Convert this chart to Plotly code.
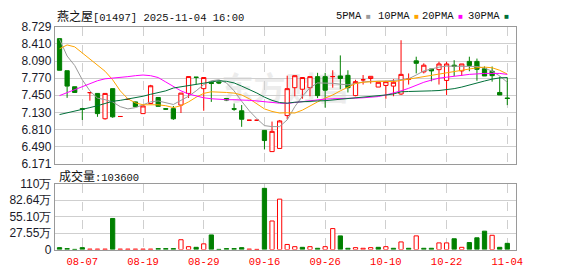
import plotly.graph_objects as go

# ---------------- data ----------------
dates = ["08-04", "08-05", "08-06", "08-07", "08-08", "08-11", "08-12", "08-13", "08-14", "08-15",
         "08-18", "08-19", "08-20", "08-21", "08-22", "08-25", "08-26", "08-27", "08-28", "08-29",
         "09-05", "09-08", "09-09", "09-10", "09-11", "09-12", "09-15", "09-16", "09-17", "09-18",
         "09-19", "09-22", "09-23", "09-24", "09-25", "09-26", "09-29", "09-30", "10-02", "10-03",
         "10-06", "10-08", "10-09", "10-10", "10-13", "10-14", "10-15", "10-16", "10-17", "10-20",
         "10-21", "10-22", "10-23", "10-24", "10-27", "10-28", "10-30", "10-31", "11-03", "11-04"]

opens = [8.510, 7.910, 7.610, 7.200, 7.500, 7.485, 7.011, 7.574, 7.053, 7.374,
         7.326, 7.107, 7.297, 7.409, 7.200, 7.200, 7.267, 7.485, 7.790, 7.574,
         7.690, 7.700, 7.390, 7.200, 7.160, 6.983, 6.983, 6.793, 6.396, 6.455,
         7.070, 7.592, 7.563, 7.592, 7.799, 7.799, 7.800, 7.811, 7.823, 7.444,
         7.740, 7.764, 7.604, 7.634, 7.622, 7.474, 7.752, 8.095, 7.888, 7.942,
         7.930, 7.728, 8.013, 7.906, 8.084, 8.084, 7.947, 7.900, 7.503, 7.400]
highs = [8.510, 7.910, 7.610, 7.215, 7.500, 7.490, 7.485, 7.574, 7.053, 7.374,
         7.330, 7.260, 7.645, 7.410, 7.210, 7.250, 7.491, 7.800, 7.790, 7.782,
         7.710, 7.710, 7.390, 7.297, 7.267, 6.983, 6.990, 6.800, 6.958, 6.988,
         7.817, 7.820, 7.785, 7.800, 7.870, 7.870, 7.918, 8.196, 7.918, 7.740,
         7.829, 7.805, 7.693, 7.722, 7.752, 8.480, 7.859, 8.172, 8.048, 7.942,
         8.078, 8.078, 8.107, 8.036, 8.172, 8.137, 7.989, 7.989, 7.799, 7.782]
lows = [7.918, 7.402, 7.500, 6.988, 7.349, 7.047, 6.994, 7.029, 7.053, 7.374,
        7.237, 7.100, 7.290, 7.243, 7.180, 6.990, 7.118, 7.400, 7.651, 7.160,
        7.326, 7.660, 7.350, 7.160, 6.860, 6.983, 6.975, 6.437, 6.390, 6.450,
        7.000, 7.432, 7.385, 7.432, 7.397, 7.219, 7.592, 7.563, 7.503, 7.432,
        7.651, 7.669, 7.604, 7.385, 7.432, 7.456, 7.651, 7.859, 7.859, 7.711,
        7.651, 7.456, 7.811, 7.811, 7.900, 7.722, 7.811, 7.705, 7.456, 7.266]
closes = [7.918, 7.622, 7.503, 7.190, 7.500, 7.107, 7.485, 7.047, 7.053, 7.374,
          7.237, 7.250, 7.628, 7.243, 7.190, 7.010, 7.491, 7.800, 7.785, 7.782,
          7.670, 7.680, 7.360, 7.190, 7.001, 6.983, 6.983, 6.603, 6.775, 6.970,
          7.574, 7.817, 7.782, 7.799, 7.444, 7.545, 7.800, 7.764, 7.592, 7.705,
          7.740, 7.805, 7.693, 7.705, 7.693, 7.841, 7.752, 8.048, 8.013, 7.906,
          8.036, 8.036, 7.989, 8.036, 8.007, 7.936, 7.811, 7.817, 7.456, 7.390]

ma5 = [8.498, 8.184, 8.007, 7.740, 7.533, 7.397, 7.367, 7.326, 7.237, 7.195,
       7.219, 7.266, 7.326, 7.344, 7.308, 7.278, 7.355, 7.432, 7.533, 7.651,
       7.722, 7.740, 7.681, 7.533, 7.338, 7.160, 7.012, 6.882, 6.864, 6.864,
       6.990, 7.237, 7.432, 7.592, 7.681, 7.681, 7.675, 7.657, 7.645, 7.669,
       7.699, 7.711, 7.711, 7.717, 7.728, 7.740, 7.758, 7.829, 7.906, 7.942,
       7.977, 7.995, 7.995, 7.989, 7.995, 7.989, 7.959, 7.900, 7.811, 7.693]
ma10 = [8.320, 8.392, 8.356, 8.244, 8.137, 8.024, 7.900, 7.740, 7.533, 7.385,
        7.308, 7.272, 7.278, 7.272, 7.255, 7.219, 7.255, 7.326, 7.414, 7.486,
        7.515, 7.515, 7.503, 7.491, 7.456, 7.385, 7.284, 7.195, 7.148, 7.118,
        7.124, 7.118, 7.172, 7.255, 7.326, 7.397, 7.456, 7.533, 7.604, 7.669,
        7.693, 7.705, 7.711, 7.711, 7.705, 7.728, 7.752, 7.776, 7.799, 7.817,
        7.841, 7.870, 7.894, 7.918, 7.942, 7.965, 7.977, 7.965, 7.918, 7.847]
ma20 = [7.444, 7.497, 7.551, 7.610, 7.669, 7.722, 7.758, 7.770, 7.776, 7.799,
        7.817, 7.829, 7.817, 7.782, 7.699, 7.610, 7.533, 7.474, 7.432, 7.403,
        7.385, 7.373, 7.367, 7.367, 7.367, 7.355, 7.344, 7.326, 7.308, 7.302,
        7.299, 7.314, 7.338, 7.355, 7.367, 7.379, 7.385, 7.385, 7.391, 7.397,
        7.403, 7.414, 7.426, 7.456, 7.491, 7.533, 7.580, 7.640, 7.693, 7.734,
        7.770, 7.788, 7.811, 7.823, 7.841, 7.853, 7.859, 7.859, 7.859, 7.841]
ma30 = [7.089, 7.118, 7.148, 7.184, 7.219, 7.255, 7.296, 7.338, 7.355, 7.379,
        7.409, 7.432, 7.468, 7.503, 7.533, 7.586, 7.610, 7.628, 7.651, 7.675,
        7.699, 7.722, 7.711, 7.681, 7.622, 7.563, 7.492, 7.415, 7.355, 7.314,
        7.302, 7.320, 7.332, 7.338, 7.344, 7.349, 7.361, 7.373, 7.385, 7.397,
        7.414, 7.432, 7.444, 7.456, 7.474, 7.515, 7.521, 7.521, 7.527, 7.533,
        7.539, 7.551, 7.574, 7.604, 7.645, 7.681, 7.717, 7.752, 7.776, 7.782]

volumes = [32000, 16000, 3000, 32000, 8000, 8000, 8000, 519000, 8000, 8000,
           8000, 8000, 8000, 16000, 16000, 16000, 164000, 48000, 37000, 95000,
           244000, 3000, 16000, 16000, 32000, 8000, 3000, 1022000, 477000, 842000,
           85000, 48000, 37000, 48000, 21000, 48000, 350000, 228000, 21000, 32000,
           21000, 32000, 37000, 48000, 21000, 127000, 21000, 228000, 21000, 21000,
           111000, 111000, 180000, 37000, 117000, 196000, 307000, 238000, 37000, 103600]
vol_dir = ["d", "d", "d", "d", "u", "u", "u", "d", "u", "u",
           "u", "u", "u", "d", "d", "d", "u", "u", "d", "u",
           "d", "d", "d", "d", "d", "u", "u", "d", "u", "u",
           "u", "u", "d", "u", "d", "u", "u", "d", "d", "u",
           "u", "u", "d", "u", "d", "u", "d", "u", "d", "d",
           "u", "u", "d", "u", "d", "d", "d", "u", "d", "d"]

price_ticks = [6.171, 6.490, 6.810, 7.130, 7.450, 7.770, 8.090, 8.410, 8.729]
vol_ticks = [0, 275500, 551000, 826400, 1102000]
vol_tick_labels = ["0", "27.55万", "55.10万", "82.64万", "110万"]
x_tick_dates = ["08-07", "08-19", "08-29", "09-16", "09-26", "10-10", "10-22", "11-04"]

title_name = "燕之屋"
title_rest = "[01497] 2025-11-04 16:00"
vol_title = "成交量"
last_volume = 103600
ma_names = ["5PMA", "10PMA", "20PMA", "30PMA"]

# ---------------- style ----------------
W, H = 578, 276
RED = "#ff0000"
GREEN = "#008000"
MA_COLORS = ["#9a9a9a", "#ffa500", "#ff00ff", "#00703a"]
GRID = "#cfcfcf"
FRAME = "#9a9a9a"
SANS = "Liberation Sans, Arial, sans-serif"
MONO = "Liberation Mono, DejaVu Sans Mono, monospace"
CJK = "Noto Sans CJK SC"

PL, PR = 55.5, 522.5          # plot left/right px
P_TOP, P_BOT = 21, 165        # price panel px
V_TOP, V_BOT = 186, 255.5     # volume panel px


def px_x(v):
    return v / W


def px_y(v):
    return (H - v) / H


n = len(dates)
up_idx = [i for i in range(n) if closes[i] >= opens[i]]
dn_idx = [i for i in range(n) if closes[i] < opens[i]]

fig = go.Figure()


def candle(idx, line_col, fill_col):
    style = dict(line=dict(color=line_col, width=1), fillcolor=fill_col)
    return go.Candlestick(
        x=[dates[i] for i in idx],
        open=[opens[i] for i in idx],
        high=[highs[i] for i in idx],
        low=[lows[i] for i in idx],
        close=[closes[i] for i in idx],
        increasing=style, decreasing=style,
        whiskerwidth=0, xaxis="x", yaxis="y",
        showlegend=False, hoverinfo="skip",
    )


fig.add_trace(candle(up_idx, RED, "#ffffff"))
fig.add_trace(candle(dn_idx, GREEN, GREEN))

for name, vals, col in zip(ma_names, [ma5, ma10, ma20, ma30], MA_COLORS):
    fig.add_trace(go.Scatter(x=dates, y=vals, mode="lines", name=name,
                             line=dict(color=col, width=1),
                             xaxis="x", yaxis="y", showlegend=False, hoverinfo="skip"))

fig.add_trace(go.Bar(
    x=dates, y=volumes, xaxis="x2", yaxis="y2", width=0.56,
    marker=dict(color=["#ffffff" if d == "u" else GREEN for d in vol_dir],
                line=dict(color=[RED if d == "u" else GREEN for d in vol_dir], width=1)),
    showlegend=False, hoverinfo="skip",
))

xcommon = dict(
    type="category", categoryorder="array", categoryarray=dates,
    range=[-0.62, 60.17], domain=[px_x(PL), px_x(PR)],
    showgrid=True, gridcolor=GRID, griddash="dash", gridwidth=1,
    tickvals=x_tick_dates, ticks="", zeroline=False,
    showline=True, mirror=True, linecolor=FRAME, linewidth=1,
    fixedrange=True, rangeslider=dict(visible=False),
)
fig.update_layout(
    width=W, height=H, autosize=False,
    margin=dict(l=0, r=0, t=0, b=0, pad=0),
    paper_bgcolor="white", plot_bgcolor="white",
    showlegend=False, boxgap=0.2, boxgroupgap=0.3,
    xaxis=dict(xcommon, anchor="y", showticklabels=False),
    xaxis2=dict(xcommon, anchor="y2", matches="x", showticklabels=True,
                ticktext=x_tick_dates, ticklabelstandoff=2,
                tickfont=dict(family=MONO, size=10.5, color=RED)),
    yaxis=dict(domain=[px_y(P_BOT), px_y(P_TOP)], range=[price_ticks[0], price_ticks[-1]],
               tickvals=price_ticks, tickformat=".3f", ticks="",
               showgrid=True, gridcolor=GRID, zeroline=False,
               showline=True, mirror=True, linecolor=FRAME,
               tickfont=dict(family=SANS, size=12, color="#1a1a2a"), fixedrange=True),
    yaxis2=dict(domain=[px_y(V_BOT), px_y(V_TOP)], range=[vol_ticks[0], vol_ticks[-1]],
                tickvals=vol_ticks, ticktext=vol_tick_labels, ticks="",
                showgrid=True, gridcolor=GRID, zeroline=False,
                showline=True, mirror=True, linecolor=FRAME,
                tickfont=dict(family=SANS, size=12, color="#1a1a2a"), fixedrange=True),
)

annos = [
    dict(text=f'<span style="font-family:{CJK};font-size:12px">{title_name}</span>{title_rest}',
         x=px_x(56), y=px_y(8.5), xanchor="left", yanchor="middle",
         font=dict(family=MONO, size=10.5, color="#111111")),
    dict(text=f'<span style="font-family:{CJK};font-size:12px">{vol_title}</span>:{last_volume}',
         x=px_x(57.5), y=px_y(177.5), xanchor="left", yanchor="middle",
         font=dict(family=MONO, size=10.5, color="#111111")),
]
legend_x = [338, 380.5, 425.5, 471.5]
for name, col, lx in zip(ma_names, MA_COLORS, legend_x):
    annos.append(dict(
        text=f'{name}<span style="color:{col};font-size:8px"> ■</span>',
        x=px_x(lx), y=px_y(9), xanchor="left", yanchor="middle",
        font=dict(family=MONO, size=10.5, color="#111111")))
for a in annos:
    a.update(xref="paper", yref="paper", showarrow=False)
fig.update_layout(annotations=annos)

fig.add_shape(type="rect", xref="paper", yref="paper",
              x0=px_x(200), x1=px_x(378), y0=px_y(106), y1=px_y(70),
              line=dict(width=0), fillcolor="rgba(0,0,0,0)", layer="below",
              label=dict(text="东方财富", textposition="middle center",
                         font=dict(family=CJK, size=32, color="#ececec", weight="bold")))

fig.write_html("out.html", config={"displayModeBar": False, "staticPlot": True})
